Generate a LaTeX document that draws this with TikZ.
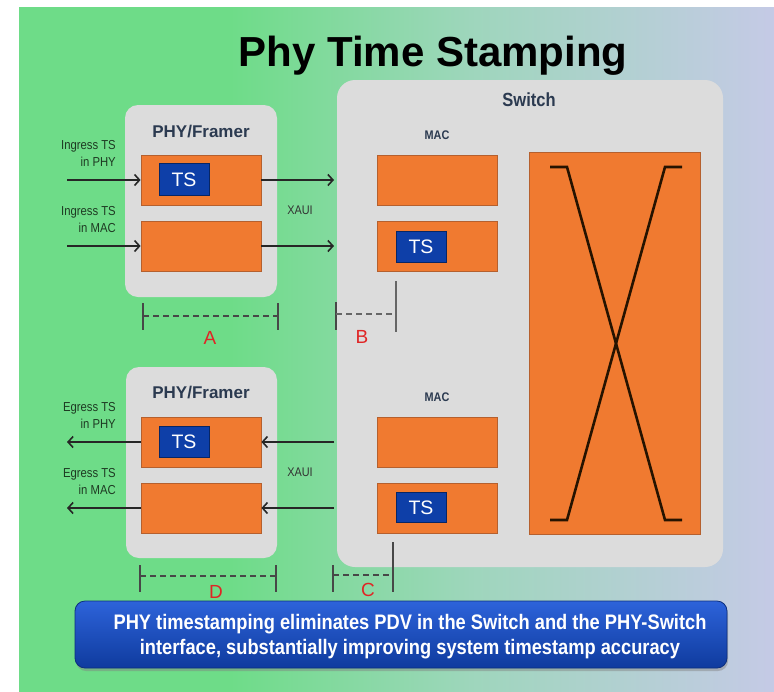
\documentclass[tikz,border=0pt]{standalone}
\usepackage{fontspec}
\setmainfont{Liberation Sans}
\newfontfamily\nar[FakeStretch=0.87]{Liberation Sans}
\usetikzlibrary{arrows.meta,shadows}
\definecolor{bggreen}{HTML}{6EDC88}
\definecolor{bgmid}{HTML}{9ED6BC}
\definecolor{bglav}{HTML}{C5CAE6}
\definecolor{boxgrey}{HTML}{DCDCDC}
\definecolor{orng}{HTML}{F07A30}
\definecolor{orngdk}{HTML}{B5602E}
\definecolor{tsblue}{HTML}{0E3FA8}
\definecolor{navy}{HTML}{2B3A50}
\definecolor{lblgreen}{HTML}{1E3A22}
\definecolor{dimred}{HTML}{E02525}
\definecolor{bantop}{HTML}{2D63DA}
\definecolor{banbot}{HTML}{0F3B9E}
\begin{document}
\begin{tikzpicture}[x=1pt,y=-1pt,
  greybox/.style={fill=boxgrey, rounded corners=13pt, draw=none, inner sep=0},
  obox/.style={fill=orng, draw=orngdk, line width=0.8pt, minimum width=120pt, minimum height=50pt, inner sep=0},
  tsbox/.style={fill=tsblue, draw=tsblue!60!black, line width=0.6pt, text=white, font=\fontsize{19.5}{19}\selectfont, minimum width=50pt, minimum height=32pt, inner sep=0},
  arr/.style={-{Straight Barb[length=5pt,width=11pt,line width=1.6pt]}, line width=1.8pt, draw=black!85},
  small/.style={font=\nar\fontsize{13}{17}\selectfont, text=lblgreen, align=right, anchor=east, inner sep=0},
  xaui/.style={font=\nar\fontsize{12.5}{14}\selectfont, text=black!80, inner sep=0},
  framer/.style={font=\bfseries\fontsize{17}{17}\selectfont, text=navy, inner sep=0},
  maclbl/.style={font=\nar\bfseries\fontsize{12.5}{12}\selectfont, text=navy, inner sep=0},
  dimtick/.style={line width=2.2pt, draw=black!72},
  dimdash/.style={line width=1.6pt, dash pattern=on 6pt off 4pt, draw=black!72},
  dimlbl/.style={text=dimred, font=\fontsize{19}{19}\selectfont, inner sep=0},
  xline/.style={line width=2.6pt, draw=black!85!orange, line join=miter}
]
\useasboundingbox (0,0) rectangle (774,691);
% background
\fill[bggreen] (19,7) rectangle (231,694);
\shade[left color=bggreen,right color=bgmid] (230,7) rectangle (471,694);
\shade[left color=bgmid,right color=bglav] (470,7) rectangle (776,694);

% title
\node[font=\bfseries\fontsize{42}{42}\selectfont, anchor=base, inner sep=0] (title) at (433,66) {Phy Time Stamping};

% ---------- top PHY/Framer ----------
\node[greybox, minimum width=152pt, minimum height=192pt] (phyA) at (201,201) {};
\node[framer] (phyAl) at (201,132) {PHY/Framer};
\node[obox] (ob1) at (201,180) {};
\node[tsbox] (ts1) at (184,179.5) {TS};
\node[obox] (ob2) at (201,246) {};

% ---------- switch ----------
\node[greybox, rounded corners=18pt, minimum width=386pt, minimum height=487pt] (sw) at (530,323.5) {};
\node[font=\nar\bfseries\fontsize{19}{19}\selectfont, text=navy, inner sep=0] (swl) at (529,100) {Switch};
\node[maclbl] (mac1l) at (437,135) {MAC};
\node[obox] (m1) at (437.5,180) {};
\node[obox] (m2) at (437.5,246) {};
\node[tsbox, minimum height=31pt] (ts2) at (421,246.5) {TS};
\node[maclbl] (mac2l) at (437,397) {MAC};
\node[obox] (m3) at (437.5,442) {};
\node[obox] (m4) at (437.5,508.5) {};
\node[tsbox, minimum height=30pt] (ts4) at (421,507.5) {TS};
\node[obox, minimum width=171pt, minimum height=382pt] (xbar) at (614.5,343) {};
\coordinate (xa1) at (550,167); \coordinate (xa2) at (567,167);
\coordinate (xa3) at (665,520); \coordinate (xa4) at (682,520);
\coordinate (xb1) at (682,167); \coordinate (xb2) at (665,167);
\coordinate (xb3) at (567,520); \coordinate (xb4) at (550,520);
\draw[xline] (xa1) -- (xa2) -- (xa3) -- (xa4);
\draw[xline] (xb1) -- (xb2) -- (xb3) -- (xb4);

% ---------- bottom PHY/Framer ----------
\node[greybox, minimum width=151pt, minimum height=191pt] (phyB) at (201.5,462.5) {};
\node[framer] (phyBl) at (201,393) {PHY/Framer};
\node[obox] (ob3) at (201,442) {};
\node[tsbox, minimum height=31pt] (ts3) at (184,441.5) {TS};
\node[obox] (ob4) at (201,508) {};

% ---------- ingress arrows ----------
\coordinate (in1) at (67,180); \coordinate (in2) at (67,246);
\coordinate (xo1) at (334,180); \coordinate (xo2) at (334,246);
\draw[arr] (in1) -- (ob1);
\draw[arr] (in2) -- (ob2);
\draw[arr] (ob1) -- (xo1);
\draw[arr] (ob2) -- (xo2);
\node[small] (lin1) at (116,153.5) {Ingress TS\\in PHY};
\node[small] (lin2) at (116,220) {Ingress TS\\in MAC};
\node[xaui] (xauiA) at (300,210) {XAUI};

% ---------- egress arrows ----------
\coordinate (eg1) at (67,442); \coordinate (eg2) at (67,508);
\coordinate (xi1) at (334,442); \coordinate (xi2) at (334,508);
\draw[arr] (ob3) -- (eg1);
\draw[arr] (ob4) -- (eg2);
\draw[arr] (xi1) -- (ob3);
\draw[arr] (xi2) -- (ob4);
\node[small] (leg1) at (116,415) {Egress TS\\in PHY};
\node[small] (leg2) at (116,481.5) {Egress TS\\in MAC};
\node[xaui] (xauiB) at (300,472) {XAUI};

% ---------- dimension A ----------
\coordinate (Alt) at (143,303); \coordinate (Alb) at (143,330);
\coordinate (Art) at (278,303); \coordinate (Arb) at (278,330);
\coordinate (Alm) at (143,316); \coordinate (Arm) at (278,316);
\draw[dimtick] (Alt) -- (Alb);
\draw[dimtick] (Art) -- (Arb);
\draw[dimdash] (Alm) -- (Arm);
\node[dimlbl] (Al) at (210,338) {A};

% ---------- dimension B ----------
\coordinate (Blt) at (336,302); \coordinate (Blb) at (336,330);
\coordinate (Brt) at (396,281); \coordinate (Brb) at (396,332);
\coordinate (Blm) at (336,314); \coordinate (Brm) at (396,314);
\draw[dimtick] (Blt) -- (Blb);
\draw[dimtick, draw=black!60] (Brt) -- (Brb);
\draw[dimdash, draw=black!60] (Blm) -- (Brm);
\node[dimlbl] (Bl) at (362,337) {B};

% ---------- dimension D ----------
\coordinate (Dlt) at (140,565); \coordinate (Dlb) at (140,592);
\coordinate (Drt) at (276,565); \coordinate (Drb) at (276,592);
\coordinate (Dlm) at (140,576); \coordinate (Drm) at (276,576);
\draw[dimtick] (Dlt) -- (Dlb);
\draw[dimtick] (Drt) -- (Drb);
\draw[dimdash] (Dlm) -- (Drm);
\node[dimlbl] (Dl) at (216,592) {D};

% ---------- dimension C ----------
\coordinate (Clt) at (333,565); \coordinate (Clb) at (333,592);
\coordinate (Crt) at (393,542); \coordinate (Crb) at (393,592);
\coordinate (Clm) at (333,575); \coordinate (Crm) at (393,575);
\draw[dimtick] (Clt) -- (Clb);
\draw[dimtick] (Crt) -- (Crb);
\draw[dimdash] (Clm) -- (Crm);
\node[dimlbl] (Cl) at (368,590) {C};

% ---------- banner ----------
\node[rounded corners=10pt, top color=bantop, bottom color=banbot, draw=banbot!80!black, line width=0.8pt,
      minimum width=652pt, minimum height=67pt, inner sep=0,
      drop shadow={shadow xshift=1pt, shadow yshift=-3pt, opacity=0.45}] (banner) at (401,634.5) {};
\node[font=\nar\bfseries\fontsize{21}{25}\selectfont, text=white, align=center, inner sep=0] (bantext) at (410,637)
  {PHY timestamping eliminates PDV in the Switch and the PHY-Switch\\interface, substantially improving system timestamp accuracy};
\end{tikzpicture}
\end{document}
